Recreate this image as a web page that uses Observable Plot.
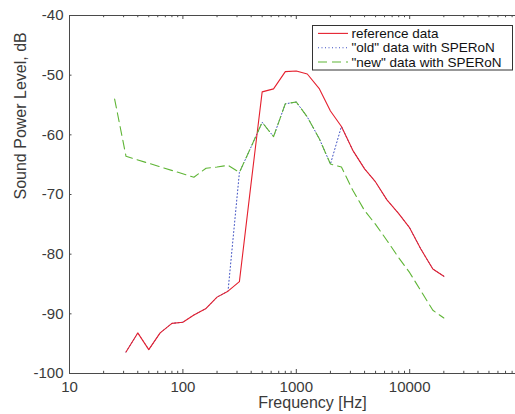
<!DOCTYPE html>
<html>
<head>
<meta charset="utf-8">
<script src="https://cdn.jsdelivr.net/npm/d3@7"></script>
<script src="https://cdn.jsdelivr.net/npm/@observablehq/plot@0.6"></script>
<style>
  html, body { margin: 0; padding: 0; background: #fff; }
  #chart { width: 515px; height: 414px; overflow: hidden; }
</style>
</head>
<body>
<div id="chart"></div>
<script>
// ---- data ----
const freqRef = [31.5, 40, 50, 63, 80, 100, 125, 160, 200, 250, 315, 400, 500, 630, 800, 1000, 1250, 1600, 2000, 2500, 3150, 4000, 5000, 6300, 8000, 10000, 12500, 16000, 20000];
const levelRef = [-96.4, -93.2, -96.0, -93.2, -91.6, -91.4, -90.2, -89.1, -87.2, -86.2, -84.6, -68.0, -52.8, -52.3, -49.4, -49.3, -49.8, -52.3, -56.0, -58.6, -62.6, -65.7, -67.9, -70.9, -73.2, -75.6, -79.1, -82.5, -83.7];

const freqOld = [31.5, 40, 50, 63, 80, 100, 125, 160, 200, 250, 315, 400, 500, 630, 800, 1000, 1250, 1600, 2000, 2500, 3150, 4000, 5000, 6300, 8000, 10000, 12500, 16000, 20000];
const levelOld = [-96.4, -93.2, -96.0, -93.2, -91.6, -91.4, -90.2, -89.1, -87.2, -86.2, -66.3, -62.0, -57.9, -60.3, -54.8, -54.5, -57.0, -60.7, -64.9, -58.6, -62.6, -65.7, -67.9, -70.9, -73.2, -75.6, -79.1, -82.5, -83.7];

const freqNew = [25, 31.5, 125, 160, 200, 250, 315, 400, 500, 630, 800, 1000, 1250, 1600, 2000, 2500, 3150, 4000, 5000, 6300, 8000, 10000, 12500, 16000, 20000];
const levelNew = [-54.0, -63.6, -67.1, -65.6, -65.4, -65.1, -66.3, -62.0, -57.9, -60.3, -54.8, -54.5, -57.0, -60.7, -64.9, -65.4, -69.3, -72.7, -75.0, -77.7, -80.6, -83.1, -86.1, -89.4, -90.7];

const seriesNames = ["reference data", "\"old\" data with SPERoN", "\"new\" data with SPERoN"];
const xTicks = [10, 100, 1000, 10000];
const yTicks = [-100, -90, -80, -70, -60, -50, -40];
const minorMultipliers = [2, 3, 4, 5, 6, 7, 8, 9];

// ---- build ----
const W = 515, H = 414, mL = 69, mR = 0, mT = 15, mB = 41;
const innerW = W - mL - mR, innerH = H - mT - mB;
const xMax = 85700;
const minorTicks = xTicks.flatMap(d => minorMultipliers.map(m => d * m)).filter(v => v < xMax);
const toRows = (fs, vs) => fs.map((f, i) => ({f, v: vs[i]}));

const colRef = "#e5202e", colOld = "#3d4fc2", colNew = "#5fb536";
const axisCol = "#4a4a4a", textCol = "#3a3a3a";
const fontFam = "'Liberation Sans', Arial, Helvetica, sans-serif";

const plot = Plot.plot({
  width: W,
  height: H,
  marginLeft: mL,
  marginRight: mR,
  marginTop: mT,
  marginBottom: mB,
  style: {fontFamily: fontFam, fontSize: "15px", color: textCol, background: "#fff", overflow: "hidden"},
  x: {type: "log", domain: [10, xMax]},
  y: {domain: [-100, -40]},
  marks: [
    // lines
    Plot.line(toRows(freqOld, levelOld), {x: "f", y: "v", stroke: colOld, strokeWidth: 1, strokeDasharray: "1,2.5"}),
    Plot.line(toRows(freqRef, levelRef), {x: "f", y: "v", stroke: colRef, strokeWidth: 1.1}),
    Plot.line(toRows(freqNew, levelNew), {x: "f", y: "v", stroke: colNew, strokeWidth: 1.1, strokeDasharray: "9,5"}),
    // box lines
    Plot.ruleY([-40, -100], {stroke: axisCol}),
    Plot.ruleX([10], {stroke: axisCol}),
    // x ticks (inward), bottom and top
    Plot.ruleX(xTicks, {stroke: axisCol, insetTop: innerH - 4}),
    Plot.ruleX(minorTicks, {stroke: axisCol, insetTop: innerH - 2.2}),
    Plot.ruleX(xTicks, {stroke: axisCol, insetBottom: innerH - 4}),
    Plot.ruleX(minorTicks, {stroke: axisCol, insetBottom: innerH - 2.2}),
    Plot.axisX({anchor: "bottom", ticks: xTicks, tickSize: 0, tickPadding: 8, tickFormat: d => String(d), label: null, fontSize: 15, fill: textCol}),
    // y ticks (inward)
    Plot.ruleY(yTicks, {stroke: axisCol, insetRight: innerW - 2.5}),
    Plot.axisY({anchor: "left", ticks: yTicks, tickSize: 0, tickPadding: 6, tickFormat: d => String(d), label: null, fontSize: 15, fill: textCol}),
    // axis titles
    Plot.text(["Frequency [Hz]"], {frameAnchor: "bottom", dx: 20, dy: 29, lineAnchor: "middle", fontSize: 16, fill: textCol}),
    Plot.text(["Sound Power Level, dB"], {frameAnchor: "left", rotate: -90, dx: -49, dy: 5, lineAnchor: "middle", fontSize: 16, fill: textCol})
  ]
});

document.getElementById("chart").appendChild(plot);

// ---- legend (drawn into the plot's svg) ----
const svg = d3.select(plot);
const lg = svg.append("g").style("font-family", fontFam).style("font-size", "13.5px").attr("text-anchor", "start");
lg.append("rect").attr("x", 312.5).attr("y", 25.5).attr("width", 200).attr("height", 44.5)
  .attr("fill", "#fff").attr("stroke", "#333").attr("stroke-width", 1);
const legendStyles = [
  {stroke: colRef, dash: null},
  {stroke: colOld, dash: "1,2.5"},
  {stroke: colNew, dash: "9,5"}
];
seriesNames.forEach((name, i) => {
  const y = 33.4 + i * 14.3;
  const ln = lg.append("line").attr("x1", 318).attr("x2", 348).attr("y1", y).attr("y2", y)
    .attr("stroke", legendStyles[i].stroke).attr("stroke-width", 1.1);
  if (legendStyles[i].dash) ln.attr("stroke-dasharray", legendStyles[i].dash);
  lg.append("text").attr("x", 351.5).attr("y", y).attr("dy", "0.35em").style("fill", "#111")
    .style("font-size", "13.5px").attr("text-anchor", "start").text(name);
});
</script>
</body>
</html>
